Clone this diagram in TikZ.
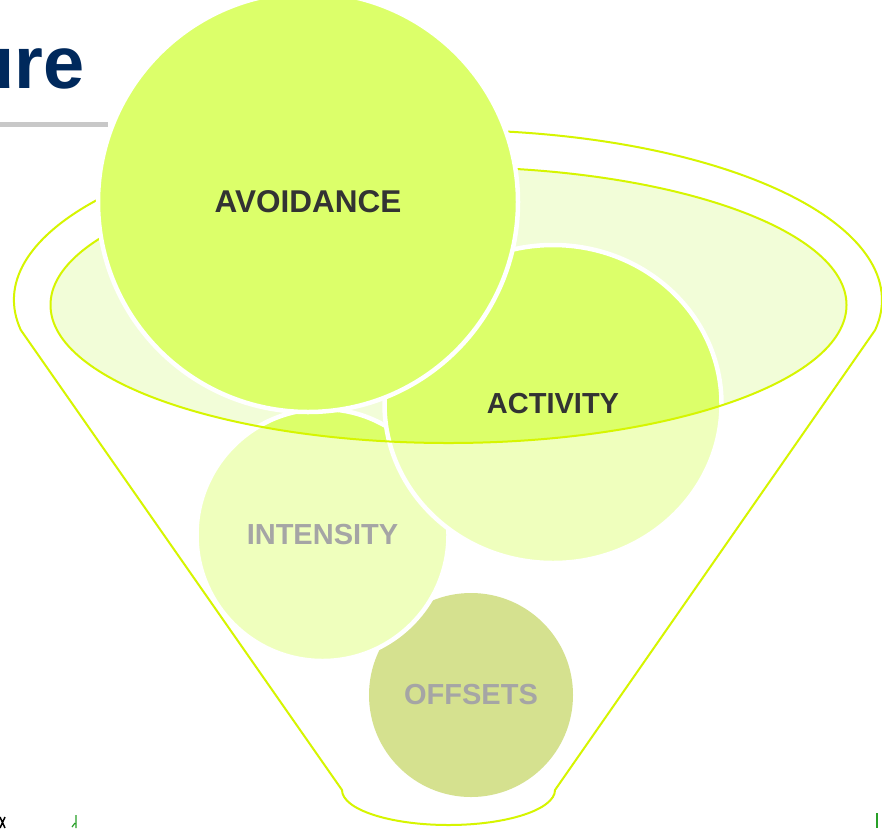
\documentclass[tikz,border=0pt]{standalone}
\usepackage{fontspec}
\setmainfont{Liberation Sans}
\usetikzlibrary{shapes}
\definecolor{limefill}{RGB}{220,255,106}
\definecolor{limepale}{RGB}{242,253,216}
\definecolor{limeline}{RGB}{214,245,0}
\definecolor{olivefill}{RGB}{160,187,0}
\definecolor{labelgrey}{RGB}{51,51,51}
\definecolor{titlenavy}{RGB}{0,41,92}
\definecolor{rulegrey}{RGB}{200,200,200}
\definecolor{sproutgreen}{RGB}{40,160,40}

\begin{document}
\begin{tikzpicture}[x=1pt, y=-1pt,
    bubble/.style={circle, fill=limefill, draw=white, line width=4.5pt, text=labelgrey,
                   font=\fontsize{29}{29}\selectfont\bfseries, inner sep=0pt},
    funnel/.style={draw=limeline, line width=2pt}]
  \fill[white] (0,0) rectangle (882,828);
  \path[use as bounding box, clip] (0,0) rectangle (882,828);
  % funnel mouth
  \fill[limepale] (448.5,305) ellipse[x radius=398pt, y radius=138pt];
  % lower bubbles
  \node[bubble, draw=none, fill=olivefill, minimum size=204pt] (offsets) at (471,695) {OFFSETS};
  \node[bubble, minimum size=252pt] (intensity) at (322.5,535) {INTENSITY};
  \node[bubble, ellipse, minimum width=337pt, minimum height=318pt] (activity) at (553,404) {ACTIVITY};
  % wash out everything below the mouth
  \fill[white, fill opacity=0.56, even odd rule] (0,0) rectangle (882,828)
    (448.5,305) ellipse[x radius=398pt, y radius=138pt];
  % heading remnant
  \node[anchor=base east, inner sep=0pt, text=titlenavy,
        font=\fontsize{74}{74}\selectfont\bfseries] (title) at (85,88) {ure};
  \fill[rulegrey] (0,122) rectangle (108,127);
  % outlines
  \draw[funnel] (20.8,330) arc[start angle=190.17, end angle=-10.17, x radius=434pt, y radius=170pt]
    -- (555,790) arc[start angle=0, end angle=-180, x radius=106.5pt, y radius=35pt] -- cycle;
  \draw[funnel] (448.5,305) ellipse[x radius=398pt, y radius=138pt];
  % top bubble
  \node[bubble, minimum size=420pt, font=\fontsize{31.5}{31.5}\selectfont\bfseries] (avoidance) at (308,202) {AVOIDANCE};
  % bits along the bottom edge
  \draw[sproutgreen, line width=1.2pt] (76,815) -- (76,828) (72,827) -- (75,823);
  \draw[sproutgreen, line width=1.5pt] (877,813) -- (877,828);
  \draw[black, line width=1.5pt] (0,817) -- (5,828) (5,817) -- (0,828);
\end{tikzpicture}
\end{document}
